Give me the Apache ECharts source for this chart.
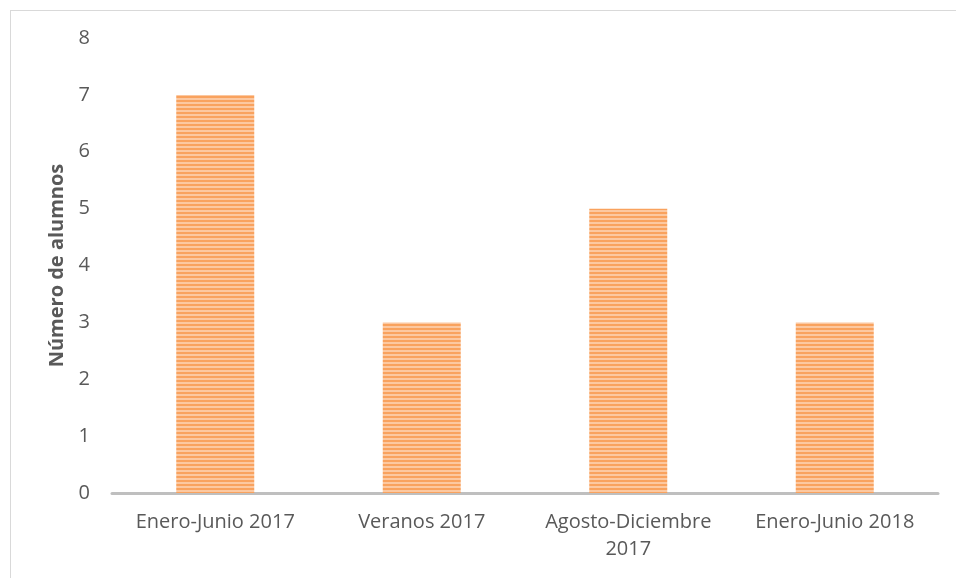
<!DOCTYPE html>
<html style="height: 100%">
<head>
<meta charset="utf-8">
<script src="https://cdn.jsdelivr.net/npm/echarts@6/dist/echarts.min.js"></script>
</head>
<body style="height: 100%; margin: 0; background: #fff">
<div style="position:absolute; left:10px; top:10px; width:946px; height:568px; border-left:1px solid #d9d9d9; border-top:1px solid #d9d9d9;"></div>
<div id="chart" style="position:absolute; left:0; top:0; width:956px; height:578px;"></div>
<script>
var categories = ['Enero-Junio 2017', 'Veranos 2017', 'Agosto-Diciembre\n2017', 'Enero-Junio 2018'];
var alumnos = [7, 3, 5, 3];
var yTicks = [0, 1, 2, 3, 4, 5, 6, 7, 8];

// striped orange fill like the original picture
var cv = document.createElement('canvas');
cv.width = 4; cv.height = 4;
var ctx = cv.getContext('2d');
ctx.fillStyle = '#f9a25e';
ctx.fillRect(0, 0, 4, 2);
ctx.fillStyle = '#fcc8a0';
ctx.fillRect(0, 2, 4, 2);

var myChart = echarts.init(document.getElementById('chart'));
var option = {
    backgroundColor: 'transparent',
    animation: false,
    grid: {left: 112, right: 18, top: 38, bottom: 85},
    xAxis: {
        type: 'category',
        data: categories,
        axisLine: {lineStyle: {color: '#bfbfbf', width: 3}},
        axisTick: {show: false},
        axisLabel: {color: '#595959', fontSize: 20, fontFamily: 'Open Sans', margin: 16, lineHeight: 27, interval: 0}
    },
    yAxis: {
        type: 'value',
        min: yTicks[0],
        max: yTicks[yTicks.length - 1],
        interval: 1,
        name: 'Número de alumnos',
        nameLocation: 'middle',
        nameGap: 43,
        nameTextStyle: {color: '#595959', fontSize: 20, fontWeight: 'bold', fontFamily: 'Open Sans'},
        axisLine: {show: false},
        axisTick: {show: false},
        splitLine: {show: false},
        axisLabel: {color: '#595959', fontSize: 20, fontFamily: 'Open Sans', margin: 22}
    },
    series: [{
        type: 'bar',
        data: alumnos,
        barWidth: 78,
        itemStyle: {color: {image: cv, repeat: 'repeat'}}
    }]
};
myChart.setOption(option);
</script>
</body>
</html>
